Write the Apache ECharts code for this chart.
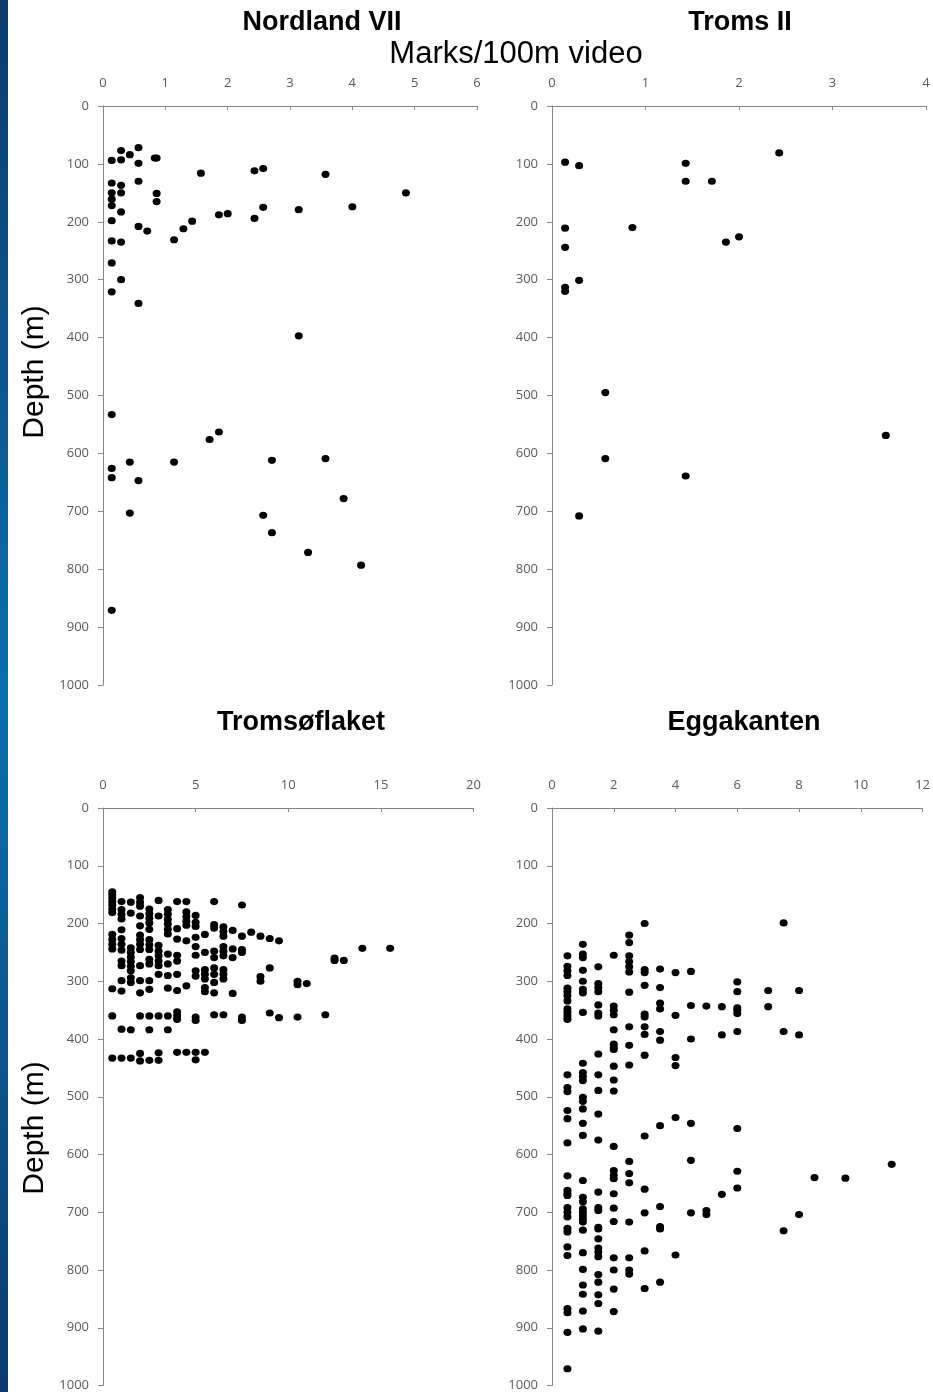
<!DOCTYPE html>
<html>
<head>
<meta charset="utf-8">
<script src="https://cdn.jsdelivr.net/npm/echarts@6/dist/echarts.min.js"></script>
<style>
html,body{margin:0;padding:0;background:#fff;}
#chart{width:933px;height:1392px;}
</style>
</head>
<body>
<div id="chart"></div>
<script>
// ---- Data ----
var panelTitles = ['Nordland VII', 'Troms II', 'Tromsøflaket', 'Eggakanten'];
var mainTitle = 'Marks/100m video';
var depthLabel = 'Depth (m)';
var depthTicks = [0, 100, 200, 300, 400, 500, 600, 700, 800, 900, 1000];
var nordlandXTicks = [0, 1, 2, 3, 4, 5, 6];
var tromsXTicks = [0, 1, 2, 3, 4];
var tromsoflaketXTicks = [0, 5, 10, 15, 20];
var eggakantenXTicks = [0, 2, 4, 6, 8, 10, 12];

// [marks per 100 m video, depth m]
var nordlandPoints = [
  [0.14,94],[0.29,77],[0.29,93],[0.43,84],[0.57,72],[0.57,99],[0.83,90],[0.86,90],
  [0.14,133],[0.29,137],[0.29,150],[0.14,150],[0.14,161],[0.14,172],[0.57,130],
  [0.86,151],[0.86,165],[0.29,183],[0.14,198],[0.57,208],[0.71,216],[1.14,231],
  [1.29,212],[1.43,199],[1.86,188],[2.0,186],[2.43,194],[2.57,175],[3.14,179],
  [4.0,174],[4.86,150],[1.57,116],[2.43,112],[2.57,108],[3.57,118],[0.14,233],
  [0.29,235],[0.14,271],[0.29,300],[0.14,321],[0.57,341],[3.14,397],
  [0.14,533],[1.86,563],[1.71,576],[0.14,626],[0.14,642],[0.43,615],[0.57,647],
  [1.14,615],[2.71,612],[3.57,609],[3.86,678],[2.57,707],[2.71,737],[3.29,771],
  [4.14,793],[0.43,703],[0.14,871]
];

var tromsPoints = [
  [0.14,97],[0.29,103],[1.43,99],[1.43,130],[1.71,130],[2.43,81],[0.14,211],
  [0.86,210],[0.14,244],[0.29,301],[0.14,313],[0.14,320],[1.86,235],[2.0,226],
  [0.57,495],[0.57,609],[1.43,639],[0.29,708],[3.57,569]
];

// columns: [marks, [depths...]]
var tromsoflaketColumns = [
  [0.5, [145,150,156,162,168,175,181,219,228,236,244,313,360,433]],
  [1.0, [162,176,184,192,211,226,236,246,265,273,299,317,383,433]],
  [1.5, [163,182,242,250,258,266,274,282,294,302,384,433]],
  [2.0, [155,163,170,187,204,220,228,236,245,273,299,320,360,425,438]],
  [2.5, [175,183,191,199,210,228,237,245,262,270,299,314,360,384,437]],
  [3.0, [160,187,238,248,256,265,273,288,360,424,437]],
  [3.5, [176,184,193,201,210,218,253,270,290,312,360,384]],
  [4.0, [162,209,227,255,265,288,316,353,360,366,423]],
  [4.5, [162,180,188,196,203,230,308,423]],
  [5.0, [186,198,205,224,240,255,282,291,362,368,423,436]],
  [5.5, [219,250,280,288,296,311,318,423]],
  [6.0, [162,202,208,248,259,277,288,302,320,358]],
  [6.5, [206,214,222,240,248,256,280,288,296,358]],
  [7.0, [212,244,259,321]],
  [7.5, [168,222,245,250,362,368]],
  [8.0, [215]],
  [8.5, [222,292,300]],
  [9.0, [226,277,355]],
  [9.5, [230,363]],
  [10.5, [300,306,362]],
  [11.0, [304]],
  [12.0, [358]],
  [12.5, [260,264]],
  [13.0, [264]],
  [14.0, [243]],
  [15.5, [243]]
];

var eggakantenColumns = [
  [0.5, [256,274,282,290,312,318,325,334,348,354,360,366,462,484,491,524,538,580,637,662,667,671,692,700,708,728,734,760,775,867,874,908,971]],
  [1.0, [236,253,259,281,300,314,320,354,442,458,465,472,501,508,521,546,567,645,674,682,694,700,706,712,717,731,770,799,826,842,871,902]],
  [1.5, [275,304,311,318,341,355,360,426,462,489,530,575,665,692,697,726,729,746,762,769,777,808,821,843,858,906]],
  [2.0, [255,343,350,358,384,409,414,418,447,471,490,586,628,636,642,668,693,716,779,800,833,872]],
  [2.5, [220,233,256,266,275,284,319,379,411,445,612,633,649,717,779,800,807]],
  [3.0, [200,280,285,307,357,362,379,392,428,568,660,701,767,832]],
  [3.5, [279,311,338,348,387,402,550,690,725,729,821]],
  [4.0, [285,359,432,446,536,774]],
  [4.5, [283,342,400,546,610,701]],
  [5.0, [343,697,704]],
  [5.5, [344,393,669]],
  [6.0, [301,318,346,350,356,387,555,629,658]],
  [7.0, [316,344]],
  [7.5, [199,387,732]],
  [8.0, [316,393,704]],
  [8.5, [640]],
  [9.5, [641]],
  [11.0, [617]]
];

function flatten(cols) {
  var out = [];
  cols.forEach(function (c) { c[1].forEach(function (d) { out.push([c[0], d]); }); });
  return out;
}

var panelData = [nordlandPoints, tromsPoints, flatten(tromsoflaketColumns), flatten(eggakantenColumns)];
var panelXTicks = [nordlandXTicks, tromsXTicks, tromsoflaketXTicks, eggakantenXTicks];

// ---- Layout ----
var grids = [
  {left: 103, top: 106, width: 374, height: 579},
  {left: 552, top: 106, width: 374, height: 579},
  {left: 103, top: 808, width: 370.5, height: 579},
  {left: 552, top: 808, width: 371, height: 579}
];

var axisColor = '#868686';
var labelStyle = {color: '#595959', fontFamily: 'Open Sans', fontSize: 13,
                  formatter: function (v) { return String(v); }};

var xAxes = [], yAxes = [], series = [];
for (var i = 0; i < 4; i++) {
  var xt = panelXTicks[i];
  xAxes.push({
    gridIndex: i, type: 'value', position: 'top',
    min: xt[0], max: xt[xt.length - 1], interval: xt[1] - xt[0],
    axisLine: {show: true, onZero: false, lineStyle: {color: axisColor, width: 1}},
    axisTick: {show: true, inside: true, length: 4, lineStyle: {color: axisColor}},
    axisLabel: Object.assign({margin: 16}, labelStyle),
    splitLine: {show: false}
  });
  yAxes.push({
    gridIndex: i, type: 'value', inverse: true,
    min: depthTicks[0], max: depthTicks[depthTicks.length - 1], interval: depthTicks[1] - depthTicks[0],
    axisLine: {show: true, onZero: false, lineStyle: {color: axisColor, width: 1}},
    axisTick: {show: true, inside: false, length: 5, lineStyle: {color: axisColor}},
    axisLabel: Object.assign({margin: 14}, labelStyle),
    splitLine: {show: false}
  });
  series.push({
    type: 'scatter', xAxisIndex: i, yAxisIndex: i,
    data: panelData[i], symbol: 'circle', symbolSize: [8, 7.2],
    itemStyle: {color: '#000000', opacity: 1}, silent: true
  });
}

function txt(x, y, text, font, rot) {
  return {
    type: 'text', x: x, y: y, rotation: rot || 0, silent: true,
    style: {text: text, font: font, fill: '#000', textAlign: 'center', textVerticalAlign: 'middle',
            align: 'center', verticalAlign: 'middle'}
  };
}

var titleFont = 'bold 27px "Liberation Sans", Arial, sans-serif';
var graphics = [
  {
    type: 'rect', shape: {x: 0, y: 0, width: 8, height: 1392}, silent: true,
    style: {fill: new echarts.graphic.LinearGradient(0, 0, 0, 1, [
      {offset: 0, color: '#0c3a6c'},
      {offset: 0.5, color: '#0a70ad'},
      {offset: 1, color: '#0b3a6d'}
    ])}
  },
  txt(322, 23, panelTitles[0], titleFont),
  txt(740, 23, panelTitles[1], titleFont),
  txt(301, 723, panelTitles[2], titleFont),
  txt(744, 723, panelTitles[3], titleFont),
  txt(516, 54, mainTitle, '31px "Liberation Sans", Arial, sans-serif'),
  txt(35, 372, depthLabel, '30px "Liberation Sans", Arial, sans-serif', Math.PI / 2),
  txt(35, 1128, depthLabel, '30px "Liberation Sans", Arial, sans-serif', Math.PI / 2)
];

var chart = echarts.init(document.getElementById('chart'), null, {renderer: 'canvas'});
chart.setOption({
  animation: false,
  backgroundColor: '#ffffff',
  grid: grids,
  xAxis: xAxes,
  yAxis: yAxes,
  series: series,
  graphic: graphics
});
</script>
</body>
</html>
